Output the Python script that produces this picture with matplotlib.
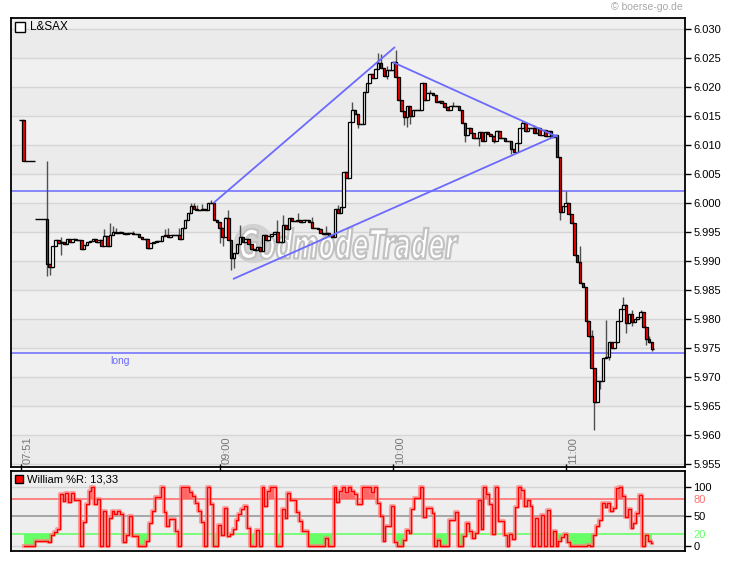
import numpy as np
import matplotlib
matplotlib.use("Agg")
import matplotlib.pyplot as plt
import matplotlib.patches as mpatches
from matplotlib.textpath import TextPath
from matplotlib.font_manager import FontProperties
from matplotlib.transforms import Affine2D

plt.rcParams['font.family'] = ['Liberation Sans', 'DejaVu Sans']

# --- data: one bar per minute (minutes since midnight), L&SAX quotes ---
bar_times = [472] + list(range(480, 691))

closes = [
    6.0072,
    5.9895, 5.9890, 5.9926, 5.9936, 5.9931, 5.9933, 5.9929, 5.9938, 5.9933, 5.9938,
    5.9936, 5.9936, 5.9921, 5.9928, 5.9933, 5.9935, 5.9938, 5.9933, 5.9936, 5.9926,
    5.9943, 5.9926, 5.9945, 5.9950, 5.9948, 5.9950, 5.9948, 5.9946, 5.9948, 5.9948,
    5.9947, 5.9947, 5.9941, 5.9938, 5.9938, 5.9923, 5.9931, 5.9933, 5.9935, 5.9935,
    5.9943, 5.9945, 5.9941, 5.9945, 5.9945, 5.9945, 5.9938, 5.9957, 5.9971, 5.9983,
    5.9995, 5.9990, 5.9988, 5.9988, 5.9990, 5.9988, 6.0000, 6.0000, 5.9971, 5.9967,
    5.9957, 5.9941, 5.9974, 5.9936, 5.9905, 5.9914, 5.9929, 5.9941, 5.9933, 5.9938,
    5.9929, 5.9921, 5.9919, 5.9924, 5.9917, 5.9945, 5.9936, 5.9943, 5.9947, 5.9950,
    5.9933, 5.9933, 5.9962, 5.9955, 5.9974, 5.9969, 5.9969, 5.9971, 5.9967, 5.9971,
    5.9971, 5.9967, 5.9957, 5.9957, 5.9955, 5.9948, 5.9946, 5.9948, 5.9945, 5.9941,
    5.9990, 5.9983, 5.9993, 6.0053, 6.0043, 6.0140, 6.0160, 6.0153, 6.0136, 6.0136,
    6.0191, 6.0207, 6.0222, 6.0215, 6.0231, 6.0241, 6.0233, 6.0219, 6.0229, 6.0229,
    6.0243, 6.0217, 6.0177, 6.0159, 6.0148, 6.0167, 6.0150, 6.0160, 6.0160, 6.0160,
    6.0207, 6.0178, 6.0190, 6.0190, 6.0186, 6.0174, 6.0176, 6.0172, 6.0165, 6.0160,
    6.0167, 6.0167, 6.0168, 6.0160, 6.0138, 6.0117, 6.0129, 6.0121, 6.0112, 6.0112,
    6.0122, 6.0107, 6.0122, 6.0119, 6.0115, 6.0107, 6.0124, 6.0112, 6.0112, 6.0107,
    6.0107, 6.0093, 6.0088, 6.0103, 6.0129, 6.0138, 6.0124, 6.0129, 6.0129, 6.0121,
    6.0129, 6.0117, 6.0126, 6.0116, 6.0124, 6.0114, 6.0117, 6.0079, 5.9984, 5.9995,
    6.0000, 5.9981, 5.9966, 5.9910, 5.9898, 5.9862, 5.9855, 5.9797, 5.9771, 5.9716,
    5.9657, 5.9693, 5.9693, 5.9733, 5.9735, 5.9760, 5.9750, 5.9760, 5.9797, 5.9817,
    5.9824, 5.9793, 5.9809, 5.9795, 5.9800, 5.9804, 5.9812, 5.9786, 5.9766, 5.9760,
    5.9748,
]

# opens that differ from the previous close
open_gaps = {472: 6.0143, 480: 5.9972}

# visible wicks (minute -> price)
wick_highs = {
    480: 6.0072, 485: 5.9941, 500: 5.9955, 502: 5.9966, 503: 5.9960, 504: 5.9957,
    510: 5.9952, 521: 5.9955, 522: 5.9957, 526: 5.9957, 530: 6.0000, 531: 6.0000,
    532: 5.9997, 534: 5.9998, 537: 6.0005, 542: 5.9976, 543: 5.9988, 547: 5.9962,
    560: 5.9971, 562: 5.9979, 567: 5.9983, 572: 5.9976, 577: 5.9960, 581: 5.9997,
    586: 6.0174, 595: 6.0259, 596: 6.0257, 598: 6.0236, 601: 6.0264, 613: 6.0195,
    621: 6.0174, 645: 6.0141, 649: 6.0134, 660: 6.0021, 665: 5.9926, 669: 5.9781,
    674: 5.9798, 680: 5.9838, 681: 5.9826, 683: 5.9816, 686: 5.9816, 689: 5.9771,
}
wick_lows = {
    480: 5.9874, 481: 5.9876, 485: 5.9910, 515: 5.9921, 540: 5.9931, 541: 5.9926,
    544: 5.9884, 545: 5.9888, 588: 6.0129, 598: 6.0214, 604: 6.0134, 605: 6.0131,
    606: 6.0136, 625: 6.0105, 630: 6.0098, 635: 6.0103, 641: 6.0085, 658: 5.9971,
    668: 5.9769, 670: 5.9609, 671: 5.9665, 672: 5.9679, 675: 5.9729, 681: 5.9776,
    683: 5.9788, 688: 5.9755, 689: 5.9758, 690: 5.9745,
}

# drawn lines
support_levels = [6.0021, 5.9741]
trend_starts = [(537.8, 6.0000), (600.0, 6.0243), (544.6, 5.9869)]
trend_ends = [(600.8, 6.0269), (657.2, 6.0114), (657.2, 6.0117)]

time_ticks = [471, 540, 600, 660]
time_labels = ["07:51", "09:00", "10:00", "11:00"]
price_ticks = [5.955, 5.960, 5.965, 5.970, 5.975, 5.980, 5.985,
               5.990, 5.995, 6.000, 6.005, 6.010, 6.015, 6.020, 6.025, 6.030]
wr_period = 5

# --- derived OHLC ---
t = np.array(bar_times, dtype=float)
c = np.array(closes)
o = np.r_[c[0], c[:-1]]
for i, tm in enumerate(bar_times):
    if tm in open_gaps:
        o[i] = open_gaps[tm]
hi = np.maximum(o, c)
lo = np.minimum(o, c)
for i, tm in enumerate(bar_times):
    if tm in wick_highs:
        hi[i] = max(hi[i], wick_highs[tm])
    if tm in wick_lows:
        lo[i] = min(lo[i], wick_lows[tm])

# William %R (0 = low of range, 100 = high)
wr = np.zeros(len(c))
for i in range(len(c)):
    j = max(0, i - wr_period + 1)
    hh, ll = hi[j:i + 1].max(), lo[j:i + 1].min()
    wr[i] = (c[i] - ll) / (hh - ll) * 100 if hh > ll else 50

# --- figure ---
fig = plt.figure(figsize=(7.3, 5.61), dpi=100)
W, H = 730, 561
ax = fig.add_axes([11 / W, 1 - 467 / H, 674 / W, 449 / H])
ax2 = fig.add_axes([11 / W, 1 - 551 / H, 674 / W, 80 / H])

xlim = (467.6, 701.4)
ylim = (5.9545, 6.0319)

# background bands + grid
ax.set_facecolor('#ededed')
bands = [ylim[0]] + price_ticks + [ylim[1]]
for k in range(len(bands) - 1):
    ax.axhspan(bands[k], bands[k + 1], color='#ebebeb' if k % 2 else '#f0f0f0',
               lw=0, zorder=0)
for p in price_ticks:
    ax.axhline(p, color='#d6d6d6', lw=1, zorder=0.5)

# watermark (logo ball + condensed bold italic lettering, placed in pixels)
ax.scatter([551.6], [5.9931], s=800, color='#d2d2d2', lw=0, zorder=0.8)
tp = TextPath((0, 0), "GodmodeTrader", size=1,
              prop=FontProperties(family='DejaVu Sans', weight='bold', style='italic'))
bb = tp.get_extents()
wm_tr = (Affine2D().translate(-bb.x0, -bb.y0)
         .scale(218 / bb.width, 31 / bb.height).translate(240, H - 259))
wm = mpatches.PathPatch(tp, facecolor='white', edgecolor='#c2c2c2', lw=1.6,
                        transform=wm_tr, zorder=0.9)
ax.add_patch(wm)

# support lines and trend lines
for lvl in support_levels:
    ax.axhline(lvl, color='#6a6aff', lw=1.1, zorder=1)
for (x0, y0), (x1, y1) in zip(trend_starts, trend_ends):
    ax.plot([x0, x1], [y0, y1], color='#6a6aff', lw=1.3, zorder=6,
            solid_capstyle='butt')
ax.text(502, 5.9728, "long", color='#6a6aff', fontsize=7.5, va='center', ha='left')

# candles
mids = (t[:-1] + t[1:]) / 2
right = np.r_[mids, t[-1] + 0.5]
left = np.r_[t[0] - 1.6, mids]
ax.vlines(t, lo, hi, color='#505050', lw=1, zorder=2)
ax.hlines(c, t, right, color='black', lw=1, zorder=3)
ax.hlines(o, left, t, color='black', lw=1, zorder=3)
body_colors = ['#ff0000' if cc < oo else 'white' for oo, cc in zip(o, c)]
ax.bar(t, c - o, bottom=o, width=0.85, color=body_colors, edgecolor='black',
       linewidth=0.9, zorder=4)

ax.set_xlim(*xlim)
ax.set_ylim(*ylim)
ax.yaxis.tick_right()
ax.set_yticks(price_ticks)
ax.set_yticklabels([f"{p:.3f}" for p in price_ticks])
ax.tick_params(axis='y', direction='out', length=4, width=1, pad=2,
               labelsize=8, colors='black')
ax.set_xticks(time_ticks)
ax.tick_params(axis='x', direction='inout', length=4, width=1, labelbottom=False)
for tm, lab in zip(time_ticks, time_labels):
    ax.text(tm + 0.8, ylim[0] + 0.00055, lab, rotation=90, ha='left', va='bottom',
            fontsize=8, color='#777777')
for s in ax.spines.values():
    s.set_linewidth(1.3)

# title box
ax.add_patch(mpatches.Rectangle((0.0059, 0.9688), 0.0148, 0.0223,
                                transform=ax.transAxes, facecolor='white',
                                edgecolor='black', lw=1, zorder=7))
ax.text(0.0282, 0.98, "L&SAX", transform=ax.transAxes, fontsize=8.5,
        va='center', ha='left', zorder=7)
fig.text(683 / W, 1 - 7 / H, "© boerse-go.de", ha='right', va='center',
         fontsize=7.5, color='#a8a8a8')

# --- William %R panel ---
ax2.set_facecolor('#eeeeee')
ax2.axhline(100, color='#d4d4d4', lw=1, zorder=0.5)
ax2.axhline(0, color='#d4d4d4', lw=1, zorder=0.5)
ax2.axhline(80, color='#ff7070', lw=1.2, zorder=1)
ax2.axhline(50, color='#999999', lw=1.2, zorder=1)
ax2.axhline(20, color='#66ff66', lw=1.2, zorder=1)
ax2.fill_between(t, wr, 80, where=wr > 80, step='mid', color='#ff6666', lw=0, zorder=2)
ax2.fill_between(t, wr, 20, where=wr < 20, step='mid', color='#66ff66', lw=0, zorder=2)
ax2.plot(t, wr, drawstyle='steps-mid', color='#ff8080', lw=3, alpha=0.7, zorder=3)
ax2.plot(t, wr, drawstyle='steps-mid', color='#ff0000', lw=1, zorder=4)
ax2.set_xlim(*xlim)
ax2.set_ylim(-8.5, 127)
ax2.set_xticks([])
ax2.yaxis.tick_right()
ax2.set_yticks([0, 50, 100])
ax2.tick_params(axis='y', direction='out', length=4, width=1, pad=2, labelsize=8)
ax2.set_yticks([20, 80], minor=True)
ax2.set_yticklabels(['20', '80'], minor=True)
ax2.tick_params(axis='y', which='minor', length=0, pad=6, labelsize=8)
mlabels = ax2.get_yticklabels(minor=True)
mlabels[0].set_color('#66ff66')
mlabels[1].set_color('#ff7070')
for s in ax2.spines.values():
    s.set_linewidth(1.3)
ax2.add_patch(mpatches.Rectangle((0.0059, 0.85), 0.0119, 0.1,
                                 transform=ax2.transAxes, facecolor='#ff0000',
                                 edgecolor='black', lw=1, zorder=7))
ax2.text(0.0237, 0.895, "William %R: 13,33", transform=ax2.transAxes,
         fontsize=8, va='center', ha='left', zorder=7)

fig.savefig("out.png", dpi=100)
